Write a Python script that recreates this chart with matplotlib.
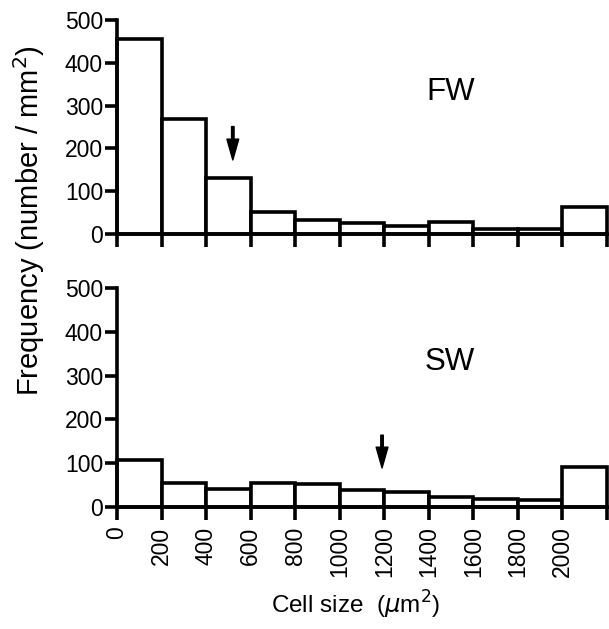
import matplotlib
matplotlib.use("Agg")
import matplotlib.pyplot as plt
import numpy as np

plt.rcParams['font.family'] = ['Liberation Sans', 'DejaVu Sans']

bin_edges = [0, 200, 400, 600, 800, 1000, 1200, 1400, 1600, 1800, 2000, 2200]
fw_values = [455, 268, 130, 52, 33, 25, 19, 27, 12, 12, 62]
sw_values = [108, 55, 42, 54, 53, 38, 34, 22, 18, 17, 92]
fw_arrow = 520
sw_arrow = 1190
x_tick_labels = ['0', '200', '400', '600', '800', '1000', '1200', '1400', '1600', '1800', '2000']
y_ticks = [0, 100, 200, 300, 400, 500]

W, H = 609, 629
fig = plt.figure(figsize=(W / 100, H / 100), dpi=100)

left = 117 / W
right = 607 / W
ax1 = fig.add_axes([left, 1 - 234 / H, right - left, (234 - 20) / H])
ax2 = fig.add_axes([left, 1 - 507 / H, right - left, (507 - 288) / H])

lw = 2.6
for ax, vals, label in [(ax1, fw_values, 'FW'), (ax2, sw_values, 'SW')]:
    widths = np.diff(bin_edges)
    ax.bar(bin_edges[:-1], vals, width=widths, align='edge', facecolor='white',
           edgecolor='black', linewidth=lw, zorder=2, clip_on=False)
    ax.set_xlim(0, 2200)
    ax.set_ylim(0, 500)
    for s in ['top', 'right']:
        ax.spines[s].set_visible(False)
    for s in ['left', 'bottom']:
        ax.spines[s].set_linewidth(lw)
        ax.spines[s].set_zorder(3)
    ax.set_yticks(y_ticks)
    ax.set_xticks(bin_edges)
    ax.tick_params(axis='both', direction='out', width=lw, labelsize=16.5)
    ax.tick_params(axis='y', length=9, pad=1)
    ax.tick_params(axis='x', length=9, pad=5)
    ax.text(0.68, 0.664, label, transform=ax.transAxes, fontsize=22.5, ha='center', va='center')

arrow_props = dict(facecolor='black', edgecolor='black', width=1.8, headwidth=8.5,
                   headlength=15, shrink=0)
ax1.annotate('', xy=(fw_arrow, 173), xytext=(fw_arrow, 251), arrowprops=arrow_props)
ax2.annotate('', xy=(sw_arrow, 89), xytext=(sw_arrow, 164), arrowprops=arrow_props)

ax1.set_xticklabels([])
ax2.set_xticklabels(x_tick_labels + [''], rotation=90)

fig.text(29 / W, 1 - 221 / H, 'Frequency (number / mm$^2$)', rotation=90, fontsize=21,
         ha='center', va='center')
fig.text(356 / W, 1 - 605 / H, 'Cell size  ($\\mu$m$^2$)', fontsize=17.5, ha='center', va='center')

fig.savefig('out.png', dpi=100)
